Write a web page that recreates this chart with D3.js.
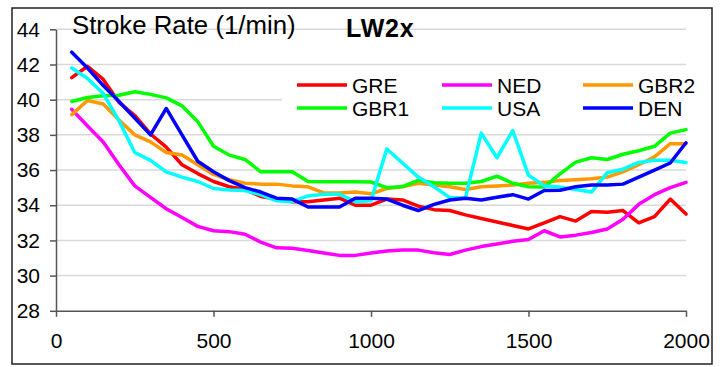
<!DOCTYPE html>
<html><head><meta charset="utf-8">
<script src="https://cdn.jsdelivr.net/npm/d3@7"></script>
<style>
html,body{margin:0;padding:0;background:#fff;}
text{font-family:"Liberation Sans",Arial,sans-serif;}
</style></head>
<body><svg id="c" width="725" height="367"></svg>
<script>
const distances = [50,100,150,200,250,300,350,400,450,500,550,600,650,700,750,800,850,900,950,1000,
  1050,1100,1150,1200,1250,1300,1350,1400,1450,1500,1550,1600,1650,1700,1750,1800,1850,1900,1950,2000];
const GRE  = [41.25,41.9,41.15,39.85,39.1,38.05,37.3,36.3,35.8,35.35,35.05,34.9,34.5,34.35,34.2,34.2,34.3,34.4,34.0,34.0,
  34.35,34.3,33.95,33.75,33.7,33.45,33.25,33.05,32.85,32.65,33.0,33.35,33.1,33.65,33.6,33.7,33.0,33.35,34.35,33.5];
const NED  = [39.45,38.5,37.6,36.3,35.1,34.45,33.8,33.3,32.8,32.55,32.5,32.35,31.9,31.58,31.55,31.43,31.28,31.15,31.15,31.28,
  31.4,31.45,31.45,31.3,31.2,31.45,31.65,31.8,31.95,32.05,32.55,32.2,32.3,32.45,32.65,33.2,34.05,34.6,35.0,35.3];
const GBR2 = [39.15,39.95,39.75,38.85,38.0,37.6,37.0,36.85,36.3,35.75,35.45,35.25,35.2,35.2,35.1,35.05,34.7,34.7,34.75,34.65,
  34.95,35.05,35.25,35.15,35.05,34.9,35.05,35.1,35.15,35.25,35.3,35.4,35.45,35.5,35.6,35.9,36.3,36.75,37.5,37.5];
const GBR1 = [39.9,40.12,40.22,40.25,40.45,40.3,40.1,39.65,38.75,37.35,36.85,36.6,35.9,35.9,35.9,35.35,35.33,35.33,35.33,35.32,
  35.0,35.06,35.42,35.28,35.25,35.25,35.35,35.65,35.25,35.05,35.03,35.78,36.45,36.7,36.6,36.9,37.1,37.35,38.1,38.3];
const USA  = [41.8,41.2,40.35,38.8,37.0,36.55,35.9,35.6,35.35,34.95,34.86,34.84,34.6,34.25,34.2,34.53,34.63,34.63,34.2,34.25,
  37.2,36.4,35.6,35.05,34.43,34.43,38.1,36.7,38.25,35.7,35.1,35.03,34.9,34.75,35.85,36.05,36.43,36.56,36.56,36.43];
const DEN  = [42.7,41.8,40.8,39.9,38.95,38.0,39.5,38.0,36.5,35.9,35.4,35.0,34.75,34.4,34.35,33.9,33.9,33.9,34.4,34.4,
  34.35,34.0,33.7,34.05,34.3,34.4,34.3,34.45,34.6,34.35,34.84,34.85,35.05,35.15,35.15,35.2,35.6,36.0,36.4,37.55];
const seriesNames = ["GRE","NED","GBR2","GBR1","USA","DEN"];
const seriesValues = [GRE,NED,GBR2,GBR1,USA,DEN];
const seriesColors = ["#ff0000","#ff00ff","#ff9900","#00ff00","#00ffff","#0000ff"];
const yTicks = [28,30,32,34,36,38,40,42,44];
const xTicks = [0,500,1000,1500,2000];
const titleText = "Stroke Rate (1/min)";
const subTitle = "LW2x";

const svg = d3.select("#c");
svg.append("rect").attr("x",12).attr("y",8).attr("width",700).attr("height",356)
  .attr("fill","#fff").attr("stroke","#222").attr("stroke-width",1.5);

const x = d3.scaleLinear().domain([0,2000]).range([56,686]);
const y = d3.scaleLinear().domain([28,44]).range([310.8,29.3]);

// gridlines
svg.append("g").selectAll("line").data(yTicks.filter(d=>d>28)).join("line")
  .attr("x1",x(0)).attr("x2",x(2000)).attr("y1",d=>y(d)).attr("y2",d=>y(d))
  .attr("stroke","#d9d9d9").attr("stroke-width",1.5);

// axes
const yAxis = svg.append("g").attr("transform",`translate(${x(0)},0)`)
  .call(d3.axisLeft(y).tickValues(yTicks).tickSize(6).tickPadding(10).tickSizeOuter(0));
const xAxis = svg.append("g").attr("transform",`translate(0,${y(28)})`)
  .call(d3.axisBottom(x).tickValues(xTicks).tickSize(6).tickPadding(16).tickSizeOuter(0).tickFormat(d3.format("d")));
[yAxis,xAxis].forEach(a=>{
  a.select(".domain").attr("stroke","#555").attr("stroke-width",1.5);
  a.selectAll(".tick line").attr("stroke","#555").attr("stroke-width",1.5);
  a.selectAll("text").attr("font-size",21).attr("fill","#000")
   .style("font-family","'Liberation Sans',Arial,sans-serif");
});

// legend background
svg.append("rect").attr("x",282).attr("y",70).attr("width",410).attr("height",50).attr("fill","#fff");

// lines
const line = d3.line().x((d,i)=>x(distances[i])).y(d=>y(d));
svg.append("g").selectAll("path").data(seriesValues).join("path")
  .attr("d",d=>line(d)).attr("fill","none")
  .attr("stroke",(d,i)=>seriesColors[i]).attr("stroke-width",3.5)
  .attr("stroke-linejoin","round").attr("stroke-linecap","round");

// titles
svg.append("text").attr("x",72).attr("y",34).attr("font-size",25.8).text(titleText);
svg.append("text").attr("x",346).attr("y",36.5).attr("font-size",25).attr("font-weight","bold")
  .attr("letter-spacing",0.8).text(subTitle);

// legend
const colX = [297,442,583];
const rowY = [85,108];
seriesNames.forEach((n,i)=>{
  const cx = colX[i%3], cy = rowY[Math.floor(i/3)];
  svg.append("line").attr("x1",cx).attr("x2",cx+50).attr("y1",cy).attr("y2",cy)
    .attr("stroke",seriesColors[i]).attr("stroke-width",3.5);
  svg.append("text").attr("x",cx+55).attr("y",cy+7.5).attr("font-size",21).text(n);
});
</script></body></html>
